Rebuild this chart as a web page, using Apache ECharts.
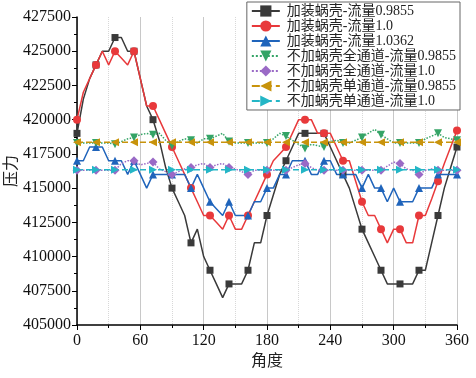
<!DOCTYPE html>
<html lang="zh">
<head>
<meta charset="UTF-8">
<title>压力-角度</title>
<script src="https://cdn.jsdelivr.net/npm/echarts@6/dist/echarts.min.js"></script>
<style>
    html, body { margin: 0; padding: 0; background: #fff; }
    #chart { width: 476px; height: 378px; }
</style>
</head>
<body>
<div id="chart"></div>
<script>
// 角度 (每 6 度一个点)
var angles = [0, 6, 12, 18, 24, 30, 36, 42, 48, 54, 60, 66, 72, 78, 84, 90, 96, 102, 108, 114, 120,
    126, 132, 138, 144, 150, 156, 162, 168, 174, 180, 186, 192, 198, 204, 210, 216, 222, 228, 234, 240,
    246, 252, 258, 264, 270, 276, 282, 288, 294, 300, 306, 312, 318, 324, 330, 336, 342, 348, 354, 360];

var names = ['加装蜗壳-流量0.9855', '加装蜗壳-流量1.0', '加装蜗壳-流量1.0362',
    '不加蜗壳全通道-流量0.9855', '不加蜗壳全通道-流量1.0', '不加蜗壳单通道-流量0.9855', '不加蜗壳单通道-流量1.0'];

var withShell0985 = [419000, 421500, 423000, 424000, 425000, 425000, 426000, 426000, 425000, 425000, 423000,
    421000, 420000, 418500, 416500, 415000, 414000, 413000, 411000, 412000, 410000,
    409000, 408000, 407000, 408000, 408000, 408000, 409000, 411000, 411000, 413000,
    414500, 416000, 417000, 418000, 419000, 419000, 419000, 419000, 419000, 418000,
    417000, 416000, 415000, 413500, 412000, 411000, 410000, 409000, 408000, 408000,
    408000, 408000, 408000, 409000, 409000, 411000, 413000, 415000, 416500, 418000];

var withShell10 = [420000, 422000, 423000, 424000, 425000, 424000, 425000, 424500, 424000, 425000, 423000,
    421000, 421000, 420000, 419000, 418000, 417000, 416000, 415000, 414000, 413000,
    413000, 412500, 412000, 413000, 412000, 412000, 413000, 414000, 415000, 416000,
    417000, 417500, 418000, 419000, 420000, 420000, 420000, 419000, 419000, 419000,
    418000, 417000, 417000, 415500, 414000, 413000, 413000, 412000, 411000, 412000,
    412000, 411000, 411000, 413000, 413000, 414200, 415500, 416800, 418000, 419200];

var withShell10362 = [417000, 417000, 418000, 418000, 418000, 417000, 417000, 417000, 416000, 417000, 416000,
    415000, 416000, 416000, 416000, 416000, 416000, 416000, 415000, 416000, 415000,
    414000, 413500, 413000, 414000, 413000, 413000, 413000, 414000, 414000, 415000,
    415000, 416000, 416000, 417000, 417000, 417000, 416000, 416000, 417000, 417000,
    416000, 416000, 416000, 416000, 415000, 416000, 415000, 415000, 414000, 415000,
    414000, 414000, 414000, 415000, 415000, 415000, 416000, 416000, 416000, 416000];

var fullPass0985 = [418300, 418300, 418300, 418300, 418300, 418300, 418200, 418400, 418600, 418700, 418900,
    419000, 418900, 419000, 418500, 418100, 418400, 418600, 418500, 418300, 418600,
    418600, 418800, 419000, 418400, 418300, 418300, 418300, 418300, 418300, 418300,
    418600, 419000, 418800, 418500, 418200, 417900, 418200, 418100, 418000, 418400,
    418500, 418300, 418300, 418500, 418700, 419000, 419300, 418900, 418600, 418300,
    418300, 418300, 418300, 418300, 418600, 418800, 419000, 418700, 418600, 418500];

var fullPass10 = [416300, 416300, 416300, 416300, 416300, 416300, 416300, 416800, 417000, 417000, 416700,
    416800, 416900, 416400, 416200, 416000, 416200, 416400, 416500, 416700, 416800,
    416500, 416700, 416800, 416500, 416400, 416200, 416000, 416300, 416300, 416300,
    416300, 416300, 416300, 416500, 416700, 416800, 416500, 416300, 416300, 416300,
    416300, 416300, 416300, 416300, 416300, 416300, 416300, 416300, 416600, 416900,
    416800, 416400, 416300, 416000, 416300, 416400, 416300, 416300, 416300, 416300];

var singlePass0985 = [418350, 418350, 418350, 418350, 418350, 418350, 418350, 418350, 418350, 418350, 418350,
    418350, 418350, 418350, 418350, 418350, 418350, 418350, 418350, 418350, 418350,
    418350, 418350, 418350, 418350, 418350, 418350, 418350, 418350, 418350, 418350,
    418350, 418350, 418350, 418350, 418350, 418350, 418350, 418350, 418350, 418350,
    418350, 418350, 418350, 418350, 418350, 418350, 418350, 418350, 418350, 418350,
    418350, 418350, 418350, 418350, 418350, 418350, 418350, 418350, 418350, 418350];

var singlePass10 = [416350, 416350, 416350, 416350, 416350, 416350, 416350, 416350, 416350, 416350, 416350,
    416350, 416350, 416350, 416350, 416350, 416350, 416350, 416350, 416350, 416350,
    416350, 416350, 416350, 416350, 416350, 416350, 416350, 416350, 416350, 416350,
    416350, 416350, 416350, 416350, 416350, 416350, 416350, 416350, 416350, 416350,
    416350, 416350, 416350, 416350, 416350, 416350, 416350, 416350, 416350, 416350,
    416350, 416350, 416350, 416350, 416350, 416350, 416350, 416350, 416350, 416350];

var yTicks = [405000, 407500, 410000, 412500, 415000, 417500, 420000, 422500, 425000, 427500];
var xTicks = [0, 60, 120, 180, 240, 300, 360];

var FONT = "'Times New Roman', 'Liberation Serif', 'Noto Sans CJK SC', serif";

function pairs(vals) {
    return angles.map(function (a, i) { return [a, vals[i]]; });
}

// 每 3 个点画一个标记
function markEvery3(size) {
    return function (v, p) { return p.dataIndex % 3 === 0 ? size : 0; };
}

function makeSeries(name, vals, color, symbol, rotate, size, lineType) {
    return {
        name: name,
        type: 'line',
        data: pairs(vals),
        color: color,
        symbol: symbol,
        symbolRotate: rotate,
        symbolSize: markEvery3(size),
        showAllSymbol: true,
        lineStyle: { width: 1.5, type: lineType, color: color },
        itemStyle: { color: color }
    };
}

var chart = echarts.init(document.getElementById('chart'), null, { renderer: 'canvas' });

chart.setOption({
    animation: false,
    backgroundColor: '#fff',
    textStyle: { fontFamily: FONT },
    grid: { left: 77, right: 19, top: 17, bottom: 53, containLabel: false, outerBoundsMode: 'none' },
    legend: {
        orient: 'vertical',
        right: 16,
        top: 2,
        padding: [2, 4, 2, 4],
        itemGap: 1,
        itemWidth: 28,
        itemHeight: 14,
        backgroundColor: '#fff',
        borderColor: '#666',
        borderWidth: 1,
        borderRadius: 0,
        textStyle: { fontFamily: FONT, fontSize: 14, color: '#222', padding: [0, 0, 0, 2] },
        data: names
    },
    xAxis: {
        type: 'value',
        min: 0,
        max: 360,
        interval: 60,
        name: '角度',
        nameLocation: 'middle',
        nameGap: 29,
        nameMoveOverlap: false,
        nameTextStyle: { fontFamily: FONT, fontSize: 16, color: '#222' },
        axisLine: { show: true, lineStyle: { color: '#000', width: 1.5 } },
        axisTick: { show: true, inside: false, length: 5, lineStyle: { color: '#000' } },
        minorTick: { show: true, splitNumber: 2, length: 3, lineStyle: { color: '#000' } },
        axisLabel: {
            fontFamily: FONT, fontSize: 16, color: '#111', margin: 8,
            formatter: function (v) { return xTicks.indexOf(v) >= 0 ? String(v) : ''; }
        },
        splitLine: { show: true, lineStyle: { color: '#c8c8c8', width: 1 } },
        minorSplitLine: { show: true, lineStyle: { color: '#d8d8d8', width: 1, type: 'dotted' } }
    },
    yAxis: {
        type: 'value',
        min: 405000,
        max: 427500,
        interval: 2500,
        name: '压力',
        nameLocation: 'middle',
        nameGap: 57,
        nameMoveOverlap: false,
        nameTextStyle: { fontFamily: FONT, fontSize: 16, color: '#222' },
        axisLine: { show: true, lineStyle: { color: '#000', width: 1.5 } },
        axisTick: { show: true, inside: false, length: 5, lineStyle: { color: '#000' } },
        minorTick: { show: true, splitNumber: 2, length: 3, lineStyle: { color: '#000' } },
        axisLabel: {
            fontFamily: FONT, fontSize: 16, color: '#111', margin: 6,
            formatter: function (v) { return yTicks.indexOf(v) >= 0 ? String(v) : ''; }
        },
        splitLine: { show: false }
    },
    series: [
        makeSeries(names[0], withShell0985, '#3a3a3a', 'rect', 0, 7, 'solid'),
        makeSeries(names[1], withShell10, '#e8393b', 'circle', 0, 8, 'solid'),
        makeSeries(names[2], withShell10362, '#1f64bb', 'triangle', 0, 8, 'solid'),
        makeSeries(names[3], fullPass0985, '#34a466', 'triangle', 180, 8, 'dotted'),
        makeSeries(names[4], fullPass10, '#9a6ac6', 'diamond', 0, 9, 'dotted'),
        makeSeries(names[5], singlePass0985, '#c8930b', 'triangle', 90, 8, 'dashed'),
        makeSeries(names[6], singlePass10, '#24b6c6', 'triangle', -90, 8, 'dashed')
    ]
});
</script>
</body>
</html>
